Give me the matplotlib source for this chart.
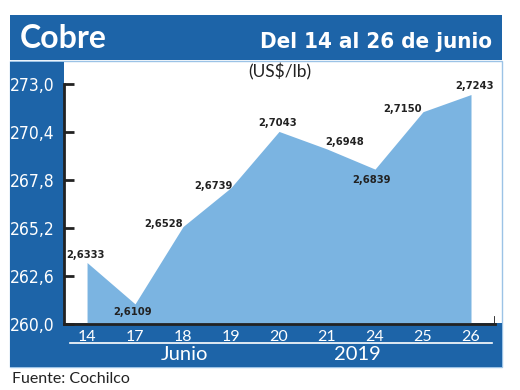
import matplotlib.pyplot as plt
from matplotlib import font_manager
from matplotlib.patches import Rectangle

# data: copper price (US$/lb), 14-26 June 2019
days = ["14", "17", "18", "19", "20", "21", "24", "25", "26"]
prices = [2.6333, 2.6109, 2.6528, 2.6739, 2.7043, 2.6948, 2.6839, 2.7150, 2.7243]
y_ticks = [260.0, 262.6, 265.2, 267.8, 270.4, 273.0]

DARK = "#1d64a8"
FILL = "#7bb4e1"
INK = "#222222"

# pick a narrow face if there is one
fonts = font_manager.fontManager.ttflist
names = {f.name for f in fonts}
if "Liberation Sans Narrow" in names:
    NARROW = dict(family=["Liberation Sans Narrow", "DejaVu Sans"])
elif any(f.name == "DejaVu Sans" and f.stretch == "condensed" for f in fonts):
    NARROW = dict(family=["DejaVu Sans"], fontstretch="condensed")
else:
    NARROW = dict(family=["Liberation Sans", "DejaVu Sans"])
SANS = dict(family=["Lato", "DejaVu Sans"])

W, H = 520, 390


def fx(px):
    return px / W


def fy(py):
    return 1 - py / H


fig = plt.figure(figsize=(5.2, 3.9), dpi=100)
fig.patch.set_facecolor("white")


def box(x0, y0, x1, y1, **kw):
    fig.add_artist(Rectangle((fx(x0), fy(y1)), fx(x1) - fx(x0), fy(y0) - fy(y1),
                             transform=fig.transFigure, zorder=-1, **kw))


# header and frame
box(10, 15, 502, 60, color=DARK, lw=0)
box(10, 61, 502, 367, facecolor="none", edgecolor="#9cc3e6", lw=1)
box(10, 62, 64, 367, color=DARK, lw=0)
box(10, 323, 502, 367, color=DARK, lw=0)

fig.text(fx(20), fy(38), "Cobre", color="white", fontsize=23, fontweight="bold",
         ha="left", va="center", **SANS)
fig.text(fx(492), fy(42), "Del 14 al 26 de junio", color="white", fontsize=16,
         fontweight="bold", ha="right", va="center", **NARROW)

# plot
ax = fig.add_axes([fx(64), fy(324), fx(495) - fx(64), fy(84) - fy(324)])
ax.set_facecolor("none")
x = list(range(len(days)))
vals = [p * 100 for p in prices]
ax.fill_between(x, vals, 260, color=FILL, lw=0)
ax.set_xlim(-0.48, 8.5)
ax.set_ylim(260, 273)
ax.set_yticks(y_ticks)
ax.set_yticklabels([f"{t:.1f}".replace(".", ",") for t in y_ticks],
                   color="white", fontsize=12.5, **NARROW)
ax.set_xticks(x)
ax.set_xticklabels(days, color="white", fontsize=11.5, **SANS)
ax.tick_params(axis="y", direction="in", length=7, width=2, color=INK, pad=6.5)
ax.tick_params(axis="x", length=0, pad=4)
for s in ["top", "right"]:
    ax.spines[s].set_visible(False)
for s in ["left", "bottom"]:
    ax.spines[s].set_linewidth(2)
    ax.spines[s].set_color(INK)
ax.axvline(8.5, ymin=0, ymax=0.03, color=INK, lw=2)

# value labels, centred, offsets in pixels (dx, dy up)
offsets = [(-2, 8), (-2, -8), (-19, 3), (-18, 2), (-1, 8),
           (18, 7), (-4, -11), (-20, 3), (3, 9)]
for i, p in enumerate(prices):
    ax.annotate(f"{p:.4f}".replace(".", ","), (i, p * 100), xytext=offsets[i],
                textcoords="offset pixels", ha="center", va="center", fontsize=8,
                fontweight="bold", color=INK, **NARROW)

fig.text(fx(280), fy(72), "(US$/lb)", fontsize=12.5, ha="center", va="center",
         color=INK, **SANS)

# month/year footer
fig.add_artist(plt.Line2D([fx(70), fx(492)], [fy(343), fy(343)], color="white", lw=1.2,
                          transform=fig.transFigure))
fig.text(fx(184), fy(355), "Junio", color="white", fontsize=14.5,
         ha="center", va="center", **SANS)
fig.text(fx(357), fy(355), "2019", color="white", fontsize=14.5,
         ha="center", va="center", **SANS)

fig.text(fx(12), fy(379), "Fuente: Cochilco", fontsize=11.5,
         ha="left", va="center", color=INK, **SANS)

fig.savefig("out.png", dpi=100)
